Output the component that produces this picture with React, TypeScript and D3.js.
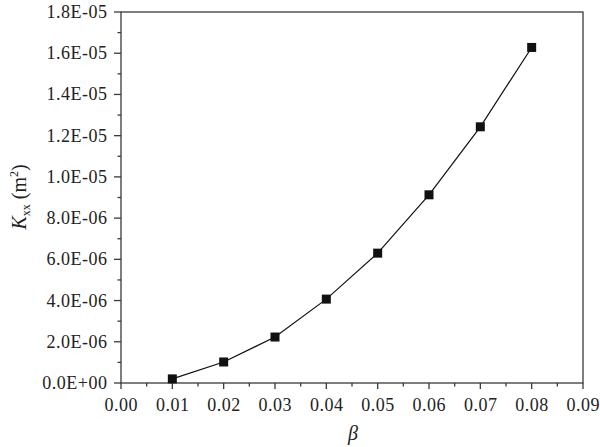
import React from "react";
import * as d3 from "d3";

const betaValues = [0.01, 0.02, 0.03, 0.04, 0.05, 0.06, 0.07, 0.08];
const kxxValues = [2.0e-7, 1.02e-6, 2.23e-6, 4.07e-6, 6.3e-6, 9.13e-6, 1.243e-5, 1.628e-5];
const xTicks = [0, 0.01, 0.02, 0.03, 0.04, 0.05, 0.06, 0.07, 0.08, 0.09];
const yTicks = [0, 2e-6, 4e-6, 6e-6, 8e-6, 1e-5, 1.2e-5, 1.4e-5, 1.6e-5, 1.8e-5];
const yTickLabels = ["0.0E+00", "2.0E-06", "4.0E-06", "6.0E-06", "8.0E-06", "1.0E-05", "1.2E-05", "1.4E-05", "1.6E-05", "1.8E-05"];

export default function App() {
  const W = 600, H = 447;
  const left = 121, right = 583, top = 12, bottom = 383;
  const x = d3.scaleLinear().domain([0, 0.09]).range([left, right]);
  const y = d3.scaleLinear().domain([0, 1.8e-5]).range([bottom, top]);
  const line = d3.line<number>().x((d, i) => x(betaValues[i])).y((d) => y(d));
  const font = "'Liberation Serif', 'Times New Roman', serif";
  const axisColor = "#3a3a3a";
  const xMinor = xTicks.slice(0, -1).map((t) => t + 0.005);
  const yMinor = yTicks.slice(0, -1).map((t) => t + 1e-6);
  return (
    <div style={{ position: "absolute", left: 0, top: 0 }}>
      <svg width={W} height={H} style={{ display: "block", background: "#fff" }}>
        <rect x={left} y={top} width={right - left} height={bottom - top} fill="none" stroke={axisColor} strokeWidth={1.3} />
        {xTicks.map((t, i) => (
          <g key={"xt" + i}>
            <line x1={x(t)} x2={x(t)} y1={bottom} y2={bottom + 6} stroke={axisColor} strokeWidth={1.3} />
            <text x={x(t) + 0.3} y={411} textAnchor="middle" fontFamily={font} fontSize={18} letterSpacing={0.5} fill="#222">
              {t.toFixed(2)}
            </text>
          </g>
        ))}
        {xMinor.map((t, i) => (
          <line key={"xm" + i} x1={x(t)} x2={x(t)} y1={bottom} y2={bottom + 3.5} stroke={axisColor} strokeWidth={1.3} />
        ))}
        {yTicks.map((t, i) => (
          <g key={"yt" + i}>
            <line x1={left - 7} x2={left} y1={y(t)} y2={y(t)} stroke={axisColor} strokeWidth={1.3} />
            <text x={107.5} y={y(t) + 6} textAnchor="end" fontFamily={font} fontSize={18} letterSpacing={0.5} fill="#222">
              {yTickLabels[i]}
            </text>
          </g>
        ))}
        {yMinor.map((t, i) => (
          <line key={"ym" + i} x1={left - 3.5} x2={left} y1={y(t)} y2={y(t)} stroke={axisColor} strokeWidth={1.3} />
        ))}
        <path d={line(kxxValues) || ""} fill="none" stroke="#111" strokeWidth={1.2} />
        {kxxValues.map((v, i) => (
          <rect key={"m" + i} x={x(betaValues[i]) - 4.5} y={y(v) - 4.5} width={9} height={9} fill="#111" />
        ))}
        <text x={353} y={440} textAnchor="middle" fontFamily={font} fontStyle="italic" fontSize={20} fill="#222">β</text>
        <text transform="translate(26,197) rotate(-90)" textAnchor="middle" fontFamily={font} fontSize={20} fill="#222">
          <tspan fontStyle="italic">K</tspan>
          <tspan fontSize={12} dy={4}>xx</tspan>
          <tspan dy={-4} dx={5}>(m</tspan>
          <tspan fontSize={12} dy={-8}>2</tspan>
          <tspan dy={8}>)</tspan>
        </text>
      </svg>
    </div>
  );
}
